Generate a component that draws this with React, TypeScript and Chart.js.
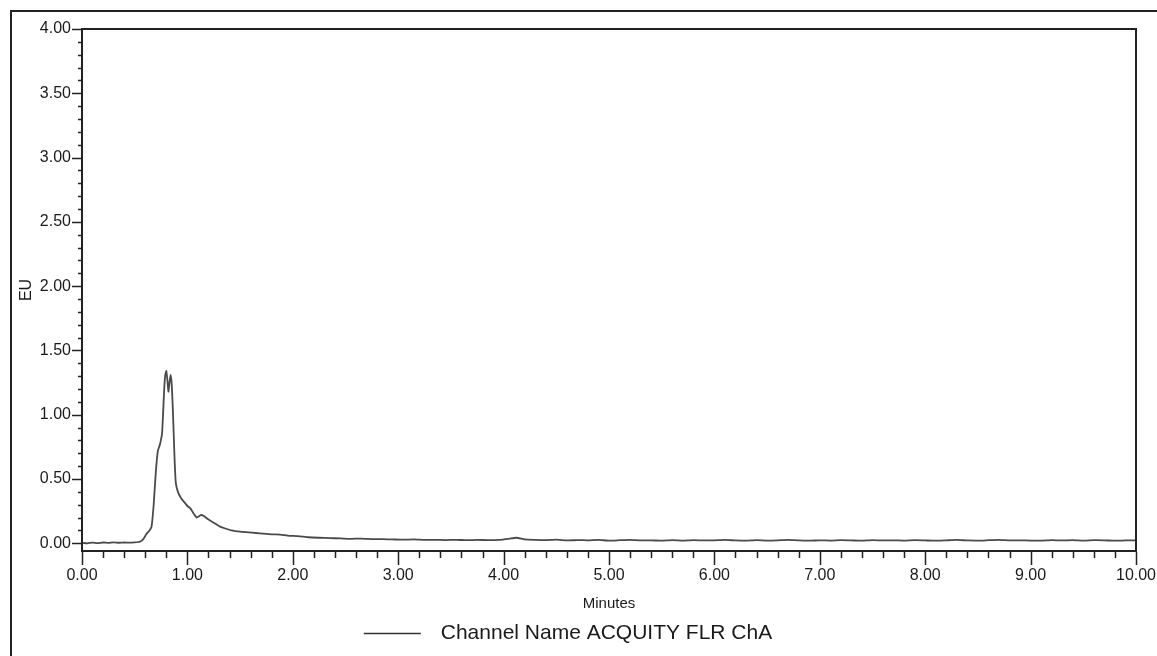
import React, { useEffect, useRef } from "react";
import { Chart, registerables } from "chart.js";

Chart.register(...registerables);

const times: number[] = [
  0.0, 0.05, 0.1, 0.15, 0.2, 0.25, 0.3, 0.35, 0.4, 0.45, 0.5, 0.55, 0.58, 0.61, 0.64, 0.66, 0.68, 0.7,
  0.72, 0.74, 0.76, 0.78, 0.79, 0.8, 0.81, 0.82, 0.83, 0.84, 0.85, 0.86, 0.87, 0.88, 0.89, 0.91, 0.94,
  0.97, 1.0, 1.03, 1.06, 1.09, 1.11, 1.13, 1.16, 1.19, 1.23, 1.27, 1.31, 1.36, 1.42, 1.5, 1.58, 1.65,
  1.72, 1.8, 1.88, 1.95, 2.05, 2.15, 2.25, 2.35, 2.45, 2.55, 2.65, 2.75, 2.85, 2.95, 3.05, 3.15, 3.25,
  3.35, 3.45, 3.55, 3.65, 3.75, 3.85, 3.95, 4.05, 4.12, 4.2, 4.3, 4.4, 4.5, 4.6, 4.7, 4.8, 4.9, 5.0,
  5.1, 5.2, 5.3, 5.4, 5.5, 5.6, 5.7, 5.8, 5.9, 6.0, 6.1, 6.2, 6.3, 6.4, 6.5, 6.6, 6.7, 6.8, 6.9, 7.0,
  7.1, 7.2, 7.3, 7.4, 7.5, 7.6, 7.7, 7.8, 7.9, 8.0, 8.1, 8.2, 8.3, 8.4, 8.5, 8.6, 8.7, 8.8, 8.9, 9.0,
  9.1, 9.2, 9.3, 9.4, 9.5, 9.6, 9.7, 9.8, 9.9, 10.0,
];

const euValues: number[] = [
  0.005, 0.0, 0.005, 0.002, 0.006, 0.003, 0.007, 0.004, 0.006, 0.005, 0.007, 0.012, 0.03, 0.07, 0.1,
  0.13, 0.3, 0.55, 0.72, 0.77, 0.86, 1.2, 1.31, 1.34, 1.27, 1.18, 1.25, 1.31, 1.25, 1.08, 0.85, 0.62,
  0.47, 0.4, 0.35, 0.32, 0.29, 0.27, 0.23, 0.2, 0.21, 0.22, 0.21, 0.19, 0.17, 0.15, 0.13, 0.115, 0.1,
  0.09, 0.085, 0.08, 0.075, 0.07, 0.068, 0.06, 0.055, 0.047, 0.043, 0.04, 0.038, 0.035, 0.036, 0.033,
  0.032, 0.03, 0.028, 0.03, 0.026, 0.027, 0.025, 0.027, 0.024, 0.026, 0.025, 0.027, 0.035, 0.043,
  0.03, 0.026, 0.024, 0.028, 0.022, 0.025, 0.023, 0.026, 0.021, 0.024, 0.027, 0.022, 0.023, 0.02,
  0.024, 0.021, 0.025, 0.022, 0.023, 0.026, 0.022, 0.02, 0.024, 0.021, 0.023, 0.027, 0.022, 0.02,
  0.023, 0.021, 0.024, 0.022, 0.02, 0.025, 0.022, 0.023, 0.021, 0.024, 0.022, 0.02, 0.023, 0.026,
  0.022, 0.021, 0.024, 0.027, 0.022, 0.023, 0.021, 0.02, 0.024, 0.022, 0.025, 0.021, 0.024, 0.023,
  0.02, 0.022, 0.023,
];

const xTickLabels: number[] = [0, 1, 2, 3, 4, 5, 6, 7, 8, 9, 10];
const yTickLabels: number[] = [0, 0.5, 1, 1.5, 2, 2.5, 3, 3.5, 4];
const seriesName = "Channel Name ACQUITY FLR ChA";
const xTitle = "Minutes";
const yTitle = "EU";

const FONT = "'Liberation Sans', Arial, sans-serif";

const framePlugin = {
  id: "framePlugin",
  afterDraw(chart: any) {
    const { ctx, chartArea, scales } = chart;
    const xs = scales.x;
    const ys = scales.y;
    ctx.save();
    ctx.strokeStyle = "#222";
    ctx.lineWidth = 2;
    ctx.strokeRect(chartArea.left, chartArea.top, chartArea.right - chartArea.left, chartArea.bottom - chartArea.top);
    ctx.lineWidth = 1.5;
    ctx.beginPath();
    for (let i = 0; i <= 50; i++) {
      const v = i * 0.2;
      const px = Math.round(xs.getPixelForValue(v)) + 0.5;
      const major = i % 5 === 0;
      ctx.moveTo(px, chartArea.bottom + 1);
      ctx.lineTo(px, chartArea.bottom + (major ? 14 : 7));
    }
    for (let i = 0; i <= 40; i++) {
      const v = i * 0.1;
      const py = Math.round(ys.getPixelForValue(v)) + 0.5;
      const major = i % 5 === 0;
      ctx.moveTo(chartArea.left, py);
      ctx.lineTo(chartArea.left - (major ? 10 : 4), py);
    }
    ctx.stroke();
    // legend
    const cx = (chartArea.left + chartArea.right) / 2;
    const y = 633;
    ctx.font = `21px ${FONT}`;
    const tw = ctx.measureText(seriesName).width;
    const lineW = 57;
    const gap = 20;
    const total = lineW + gap + tw;
    const x0 = cx - total / 2 - 41;
    ctx.strokeStyle = "#333";
    ctx.lineWidth = 1.5;
    ctx.beginPath();
    ctx.moveTo(x0, y + 0.5);
    ctx.lineTo(x0 + lineW, y + 0.5);
    ctx.stroke();
    ctx.fillStyle = "#1a1a1a";
    ctx.textBaseline = "middle";
    ctx.textAlign = "left";
    ctx.fillText(seriesName, x0 + lineW + gap, y);
    ctx.restore();
  },
};

export default function App() {
  const ref = useRef<HTMLCanvasElement>(null);
  useEffect(() => {
    document.body.style.margin = "0";
    const canvas = ref.current!;
    const chart = new Chart(canvas, {
      type: "line",
      data: {
        datasets: [
          {
            label: seriesName,
            data: times.map((t, i) => ({ x: t, y: euValues[i] })),
            borderColor: "#4a4a4a",
            borderWidth: 1.8,
            pointRadius: 0,
            tension: 0.15,
            fill: false,
          },
        ],
      },
      options: {
        animation: false,
        responsive: false,
        maintainAspectRatio: false,
        layout: { padding: { left: 0, top: 29, right: 21, bottom: 0 } },
        plugins: { legend: { display: false }, tooltip: { enabled: false } },
        scales: {
          x: {
            type: "linear",
            min: 0,
            max: 10,
            afterFit: (s: any) => {
              s.height = 105;
              s.paddingLeft = 0;
              s.paddingRight = 0;
            },
            afterBuildTicks: (s: any) => {
              s.ticks = xTickLabels.map((v) => ({ value: v }));
            },
            grid: { display: false, drawTicks: false },
            border: { display: false },
            ticks: {
              padding: 15,
              color: "#1a1a1a",
              font: { family: FONT, size: 16 },
              maxRotation: 0,
              autoSkip: false,
              callback: (v: any) => Number(v).toFixed(2),
            },
            title: {
              display: true,
              text: xTitle,
              color: "#1a1a1a",
              font: { family: FONT, size: 15 },
              padding: { top: 0, bottom: 43 },
            },
          },
          y: {
            type: "linear",
            min: -0.06,
            max: 4,
            afterFit: (s: any) => {
              s.width = 82;
              s.paddingTop = 0;
              s.paddingBottom = 0;
            },
            afterBuildTicks: (s: any) => {
              s.ticks = yTickLabels.map((v) => ({ value: v }));
            },
            grid: { display: false, drawTicks: false },
            border: { display: false },
            ticks: {
              padding: 11,
              color: "#1a1a1a",
              font: { family: FONT, size: 16 },
              autoSkip: false,
              callback: (v: any) => Number(v).toFixed(2),
            },
            title: {
              display: true,
              text: yTitle,
              color: "#1a1a1a",
              font: { family: FONT, size: 16 },
              padding: { top: 17, bottom: 0 },
            },
          },
        },
      },
      plugins: [framePlugin],
    });
    return () => chart.destroy();
  }, []);

  return (
    <div style={{ position: "fixed", left: 0, top: 0, width: 1157, height: 656, overflow: "hidden", background: "#fff" }}>
      <div
        style={{
          position: "absolute",
          left: 10,
          top: 10,
          width: 1300,
          height: 800,
          borderTop: "2px solid #222",
          borderLeft: "2px solid #222",
        }}
      />
      <canvas ref={ref} width={1157} height={656} style={{ position: "absolute", left: 0, top: 0, width: 1157, height: 656 }} />
    </div>
  );
}
